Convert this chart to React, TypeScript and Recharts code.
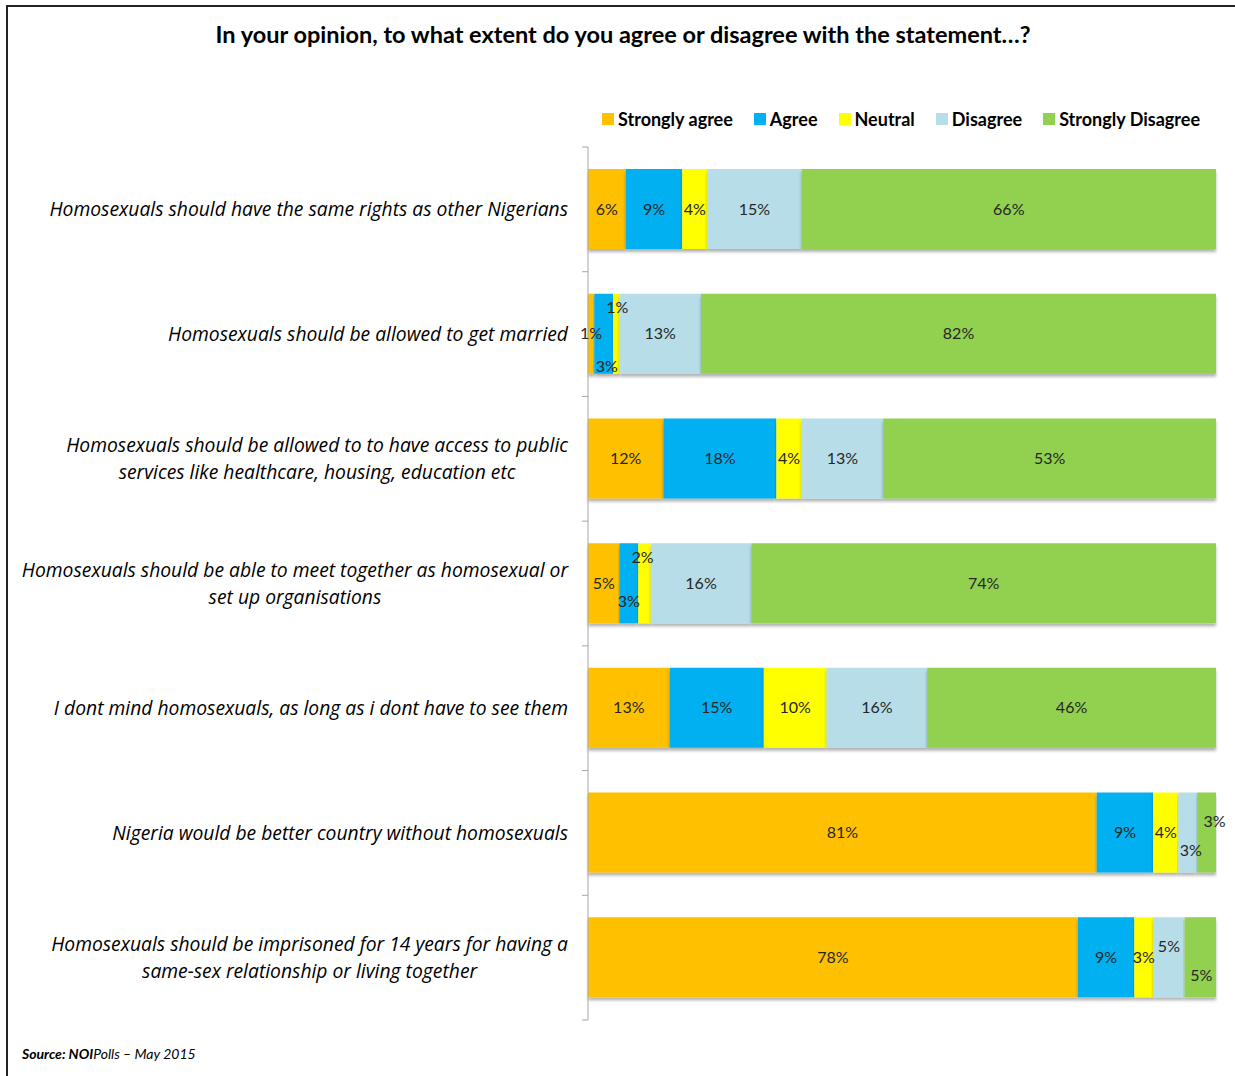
import { BarChart, Bar, XAxis, YAxis, LabelList, Rectangle } from 'recharts'

const statements = [
  'Homosexuals should have the same rights as other Nigerians',
  'Homosexuals should be allowed to get married',
  'Homosexuals should be allowed to to have access to public\nservices like healthcare, housing, education etc',
  'Homosexuals should be able to meet together as homosexual or\nset up organisations',
  'I dont mind homosexuals, as long as i dont have to see them',
  'Nigeria would be better country without homosexuals',
  'Homosexuals should be imprisoned for 14 years for having a\nsame-sex relationship or living together',
]
const stronglyAgree = [6, 1, 12, 5, 13, 81, 78]
const agree = [9, 3, 18, 3, 15, 9, 9]
const neutral = [4, 1, 4, 2, 10, 4, 3]
const disagree = [15, 13, 13, 16, 16, 3, 5]
const stronglyDisagree = [66, 82, 53, 74, 46, 3, 5]

const series = [
  { key: 'sa', name: 'Strongly agree', color: '#FFC000', values: stronglyAgree },
  { key: 'a', name: 'Agree', color: '#00B0F0', values: agree },
  { key: 'n', name: 'Neutral', color: '#FFFF00', values: neutral },
  { key: 'd', name: 'Disagree', color: '#B7DDE8', values: disagree },
  { key: 'sd', name: 'Strongly Disagree', color: '#92D050', values: stronglyDisagree },
]

const data = statements.map((s, i) => {
  const row: Record<string, string | number> = { statement: s }
  series.forEach(se => { row[se.key] = se.values[i] })
  return row
})

// thin slices get their labels pushed off-centre so they don't collide
const NUDGE: Record<string, [number, number]> = {
  '1-a': [3, 33], '1-n': [1, -26],
  '3-a': [0, 18], '3-n': [-2, -26],
  '5-d': [3, 18], '5-sd': [8, -11],
  '6-d': [0, -11], '6-sd': [1, 18],
}

const FONT = 'Lato, "Open Sans", sans-serif'
const CAT_FONT = '"Open Sans", Lato, sans-serif'
const CAT_SIZE = 19.3
const W = 1235
const H = 1076
const AXIS_X = 588
const PLOT_TOP = 147
const PLOT_BOTTOM = 1020
const BAND = (PLOT_BOTTOM - PLOT_TOP) / statements.length

let ctx: CanvasRenderingContext2D | null = null
function measure(text: string, font: string) {
  if (!ctx) ctx = document.createElement('canvas').getContext('2d')
  if (!ctx) return text.length * 9
  ctx.font = font
  return ctx.measureText(text).width
}

function CategoryTick({ y, payload, index }: any) {
  const lines = String(payload.value).split('\n')
  const font = `italic ${CAT_SIZE}px ${CAT_FONT}`
  const widest = Math.max(...lines.map(l => measure(l, font)))
  const cx = AXIS_X - 20 - widest / 2
  const lh = 26.5
  const y0 = y - ((lines.length - 1) * lh) / 2
  const top = y - BAND / 2
  return (
    <g>
      <line x1={AXIS_X - 6} x2={AXIS_X} y1={top} y2={top} stroke="#a6a6a6" />
      {index === statements.length - 1 && (
        <line x1={AXIS_X - 6} x2={AXIS_X} y1={top + BAND} y2={top + BAND} stroke="#a6a6a6" />
      )}
      <text textAnchor="middle" fontFamily={CAT_FONT} fontStyle="italic" fontSize={CAT_SIZE} fill="#000">
        {lines.map((l, i) => (
          <tspan key={i} x={cx} y={y0 + i * lh} dy="0.35em">{l}</tspan>
        ))}
      </text>
    </g>
  )
}

function makeLabel(key: string) {
  return function SegmentLabel({ x, y, width, height, value, index }: any) {
    const [dx, dy] = NUDGE[`${index}-${key}`] || [0, 0]
    return (
      <text x={x + width / 2 + dx} y={y + height / 2 + dy} dy="0.35em" textAnchor="middle"
        fontFamily={FONT} fontSize={16} fill="#262626">
        {value}%
      </text>
    )
  }
}

function ShadowBar(props: any) {
  return <Rectangle {...props} filter="url(#barShadow)" />
}

export default function App() {
  return (
    <div style={{ position: 'absolute', left: 0, top: 0, width: W, height: H, background: '#fff', fontFamily: FONT }}>
      <div style={{ position: 'absolute', left: 6, top: 5, width: W, height: H, borderLeft: '2px solid #222', borderTop: '2px solid #222' }} />
      <div style={{ position: 'absolute', left: 0, width: 1246, top: 20, textAlign: 'center', fontWeight: 700, fontSize: 23.5 }}>
        In your opinion, to what extent do you agree or disagree with the statement…?
      </div>
      <div style={{ position: 'absolute', left: 602, top: 108, display: 'flex', gap: 21, fontSize: 18, fontWeight: 700, color: '#000' }}>
        {series.map(s => (
          <div key={s.key} style={{ display: 'flex', alignItems: 'center', gap: 4 }}>
            <span style={{ width: 12, height: 12, background: s.color, display: 'inline-block' }} />
            <span>{s.name}</span>
          </div>
        ))}
      </div>
      <BarChart width={W} height={H} data={data} layout="vertical" barSize={80}
        margin={{ top: PLOT_TOP, right: W - 1216, bottom: H - PLOT_BOTTOM, left: 0 }}
        style={{ position: 'absolute', left: 0, top: 0 }}>
        <defs>
          <filter id="barShadow" x="-5%" y="-10%" width="110%" height="130%">
            <feDropShadow dx="0" dy="3" stdDeviation="1.5" floodColor="#000" floodOpacity="0.3" />
          </filter>
        </defs>
        <XAxis type="number" domain={[0, 100]} hide />
        <YAxis type="category" dataKey="statement" width={AXIS_X} tickLine={false}
          axisLine={{ stroke: '#a6a6a6' }} tick={<CategoryTick />} interval={0} />
        {series.map(s => (
          <Bar key={s.key} dataKey={s.key} name={s.name} stackId="all" fill={s.color}
            shape={ShadowBar} isAnimationActive={false}>
            <LabelList dataKey={s.key} content={makeLabel(s.key)} />
          </Bar>
        ))}
      </BarChart>
      <div style={{ position: 'absolute', left: 22, top: 1045, fontSize: 14, fontStyle: 'italic' }}>
        <b>Source: NOI</b>Polls –  May 2015
      </div>
    </div>
  )
}
